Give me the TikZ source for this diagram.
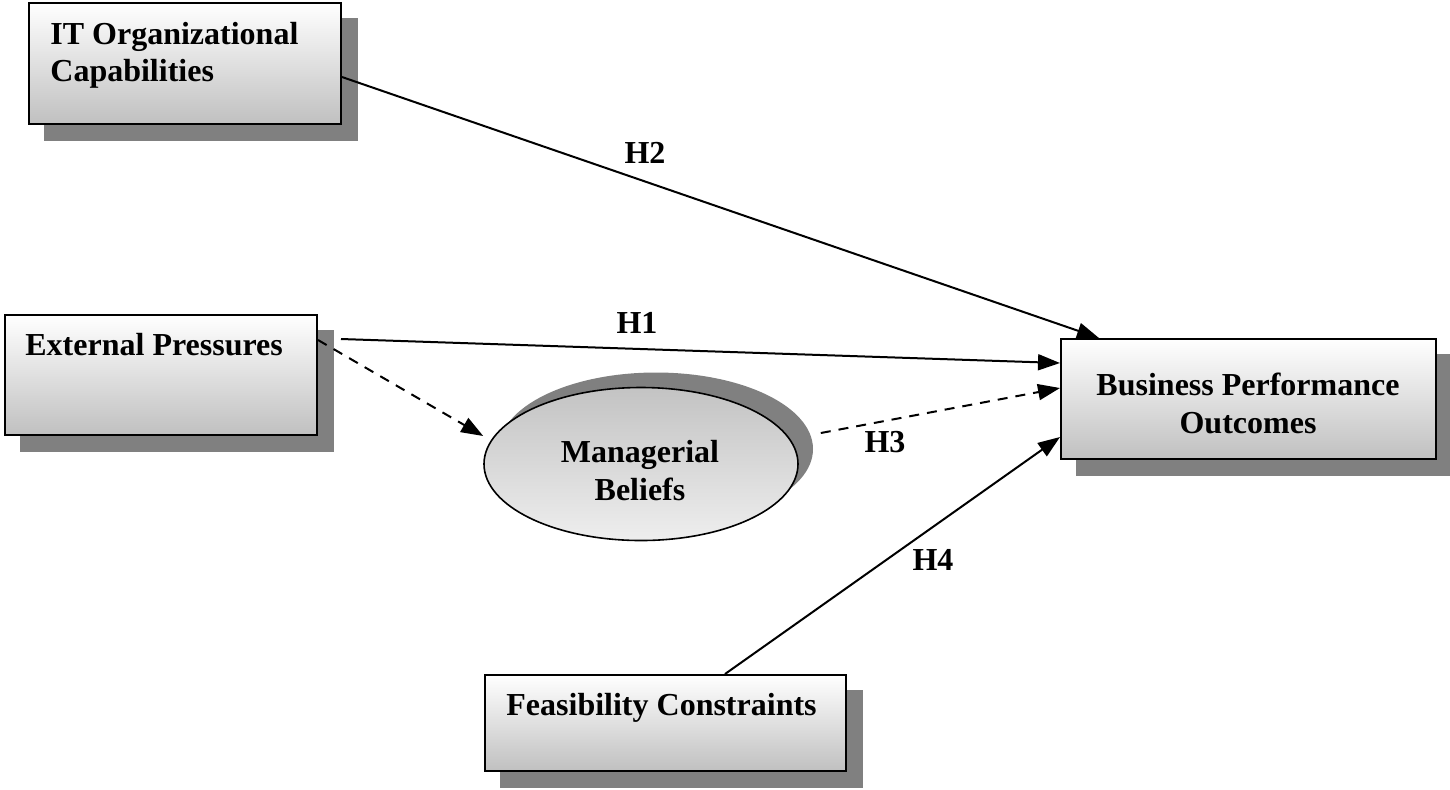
\documentclass[tikz,border=0pt]{standalone}
\usepackage{fontspec}
\setmainfont{Liberation Serif}
\usetikzlibrary{arrows.meta,shapes.geometric,backgrounds}
\definecolor{shadowgray}{RGB}{128,128,128}
\definecolor{boxbot}{RGB}{192,192,192}
\definecolor{elltop}{RGB}{195,195,195}
\definecolor{ellbot}{RGB}{238,238,238}
\begin{document}
\begin{tikzpicture}[x=0.5pt,y=-0.5pt,
  box/.style={draw=black, line width=1pt, rectangle, inner sep=0pt, top color=white, bottom color=boxbot},
  ellbox/.style={draw=black, line width=0.8pt, ellipse, inner sep=0pt, top color=elltop, bottom color=ellbot},
  shadowfill/.style={fill=shadowgray},
  lbl/.style={font=\fontsize{16pt}{18.75pt}\selectfont\bfseries, inner sep=0pt},
  conn/.style={line width=1pt, -{Triangle[length=11pt,width=8pt]}},
  dconn/.style={conn, dash pattern=on 5pt off 4pt},
]
\useasboundingbox (0,0) rectangle (1450,789);

% boxes
\node[box, minimum width=156pt, minimum height=60.5pt] (it) at (185,63.5) {};
\node[box, minimum width=156pt, minimum height=60pt] (ep) at (161,375) {};
\node[box, minimum width=187.5pt, minimum height=60pt] (bpo) at (1248.5,399) {};
\node[box, minimum width=180.5pt, minimum height=48pt] (fc) at (665.5,723) {};
\node[ellbox, minimum width=157pt, minimum height=76.5pt] (mb) at (641,464) {};

% shadows
\begin{scope}[on background layer]
  \fill[shadowfill] ([shift={(16,16)}]it.north west) rectangle ([shift={(16,16)}]it.south east);
  \fill[shadowfill] ([shift={(16,16)}]ep.north west) rectangle ([shift={(16,16)}]ep.south east);
  \fill[shadowfill] ([shift={(16,16)}]bpo.north west) rectangle ([shift={(16,16)}]bpo.south east);
  \fill[shadowfill] ([shift={(16,16)}]fc.north west) rectangle ([shift={(16,16)}]fc.south east);
  \fill[shadowfill] ([shift={(15,-15)}]mb.center) ellipse [x radius=78.5pt, y radius=38.25pt];
\end{scope}

% texts
\node[lbl, anchor=north west, align=left] (itt) at (50,21.5) {IT Organizational\\Capabilities};
\node[lbl, anchor=base west] (ept) at (25,355) {External Pressures};
\node[lbl, anchor=base west] (fct) at (506,715) {Feasibility Constraints};
\node[lbl, anchor=north, align=center] (bpot) at (1248,373) {Business Performance\\Outcomes};
\node[lbl, anchor=north, align=center] (mbt) at (640,440) {Managerial\\Beliefs};

% connectors
\draw[conn] ([yshift=-6.75pt]it.east) -- ([xshift=19.5pt]bpo.north west);
\draw[conn] ([xshift=11.5pt,yshift=18pt]ep.east) -- ([yshift=18pt]bpo.west);
\draw[dconn] ([yshift=17.5pt]ep.east) -- ([yshift=14pt]mb.west);
\draw[dconn] ([xshift=11pt,yshift=15.5pt]mb.east) -- ([yshift=5.5pt]bpo.west);
\draw[conn] ([xshift=29.75pt]fc.north) -- ([yshift=-19pt]bpo.west);

% hypothesis labels
\node[lbl, anchor=base] (h2) at (645,163) {H2};
\node[lbl, anchor=base] (h1) at (637,333) {H1};
\node[lbl, anchor=base] (h3) at (885,452) {H3};
\node[lbl, anchor=base] (h4) at (933,570) {H4};
\end{tikzpicture}
\end{document}
